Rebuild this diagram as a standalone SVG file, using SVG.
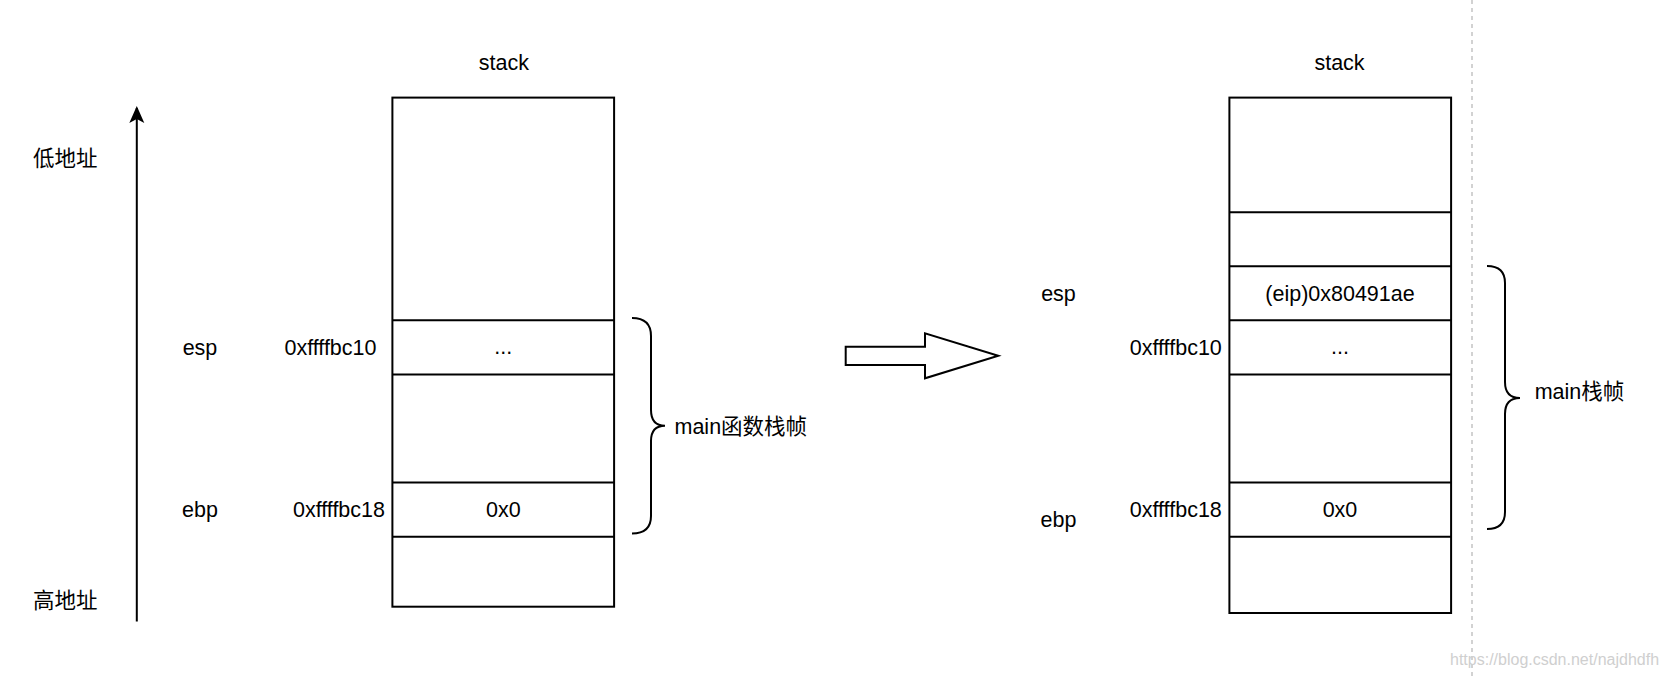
<svg xmlns="http://www.w3.org/2000/svg" width="1663" height="677" viewBox="0 0 1663 677">
<style>
text{font-family:"Liberation Sans","Noto Sans CJK SC",sans-serif;font-size:21.5px;fill:#000;dominant-baseline:central}
.c{text-anchor:middle}
.r{text-anchor:end}
.box{fill:#fff;stroke:#000;stroke-width:2}
.ln{fill:none;stroke:#000;stroke-width:2}
</style>
<rect width="1663" height="677" fill="#fff"/>

<g id="connectors">
<line x1="136.8" y1="621.5" x2="136.8" y2="108" stroke="#000" stroke-width="2"/>
<path d="M136.8,106 L129.3,123 L136.8,119 L144.3,123 Z" fill="#000"/>
<polygon points="845.7,346.7 925,346.7 925,333.3 998.3,355.7 925,378.3 925,365 845.7,365" fill="#fff" stroke="#000" stroke-width="2"/>
<line x1="1472" y1="0" x2="1472" y2="677" stroke="#c4c4c4" stroke-width="1.5" stroke-dasharray="4 4"/>
</g>

<g id="axis-labels">
<text x="33" y="159">低地址</text>
<text x="33" y="601">高地址</text>
</g>

<g id="left-stack">
<text class="c" x="503.8" y="62.6">stack</text>
<rect class="box" x="392.4" y="97.6" width="221.7" height="509.1"/>
<line class="ln" x1="392.4" y1="320.3" x2="614.1" y2="320.3"/>
<line class="ln" x1="392.4" y1="374.4" x2="614.1" y2="374.4"/>
<line class="ln" x1="392.4" y1="482.6" x2="614.1" y2="482.6"/>
<line class="ln" x1="392.4" y1="536.7" x2="614.1" y2="536.7"/>
<text class="c" x="503.3" y="347.3">...</text>
<text class="c" x="503.3" y="509.6">0x0</text>
</g>

<g id="left-registers">
<text class="c" x="200" y="347.9">esp</text>
<text class="r" x="376.5" y="347.9">0xffffbc10</text>
<text class="c" x="200" y="510">ebp</text>
<text class="r" x="385" y="510">0xffffbc18</text>
</g>

<g id="left-brace">
<path class="ln" d="M632,318 Q651,318 651,336 L651,410 Q651,425.7 665,425.7 Q651,425.7 651,441 L651,516 Q651,533.5 632,533.5"/>
<text x="674.5" y="427">main函数栈帧</text>
</g>

<g id="right-stack">
<text class="c" x="1339.5" y="62.6">stack</text>
<rect class="box" x="1229.4" y="97.6" width="221.7" height="515.4"/>
<line class="ln" x1="1229.4" y1="212.3" x2="1451.1" y2="212.3"/>
<line class="ln" x1="1229.4" y1="266.2" x2="1451.1" y2="266.2"/>
<line class="ln" x1="1229.4" y1="320.3" x2="1451.1" y2="320.3"/>
<line class="ln" x1="1229.4" y1="374.4" x2="1451.1" y2="374.4"/>
<line class="ln" x1="1229.4" y1="482.6" x2="1451.1" y2="482.6"/>
<line class="ln" x1="1229.4" y1="536.7" x2="1451.1" y2="536.7"/>
<text class="c" x="1340" y="294">(eip)0x80491ae</text>
<text class="c" x="1340" y="347.3">...</text>
<text class="c" x="1340" y="509.6">0x0</text>
</g>

<g id="right-registers">
<text class="c" x="1058.5" y="294">esp</text>
<text class="r" x="1221.8" y="347.9">0xffffbc10</text>
<text class="c" x="1058.5" y="519.7">ebp</text>
<text class="r" x="1221.8" y="510">0xffffbc18</text>
</g>

<g id="right-brace">
<path class="ln" d="M1487,266 Q1505,266 1505,283 L1505,382 Q1505,398 1520,398 Q1505,398 1505,414 L1505,512 Q1505,529 1487,529"/>
<text x="1534.7" y="392.4">main栈帧</text>
</g>

<g id="watermark">
<text x="1450" y="659" style="font-size:16px;fill:#cfcfcf">https://blog.csdn.net/najdhdfh</text>
</g>
</svg>
